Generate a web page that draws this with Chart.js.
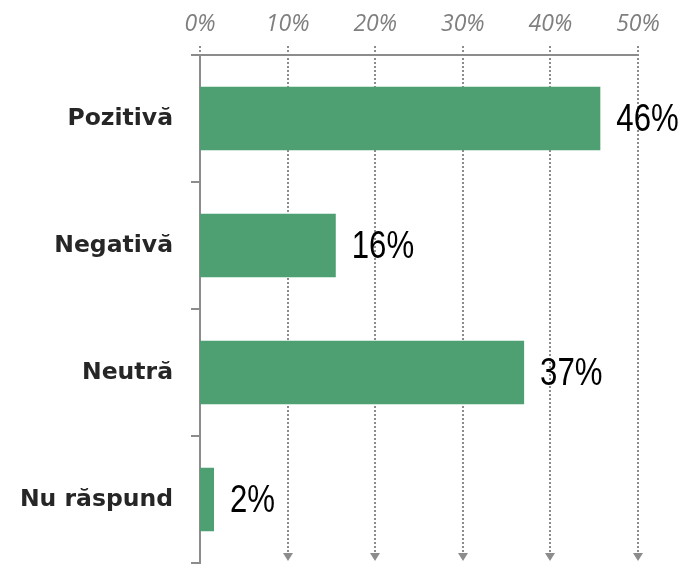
<!DOCTYPE html>
<html>
<head>
<meta charset="utf-8">
<script src="https://cdn.jsdelivr.net/npm/chart.js@4"></script>
<style>
  html, body { margin: 0; padding: 0; background: #fff; }
  #wrap { width: 686px; height: 569px; }
</style>
</head>
<body>
<div id="wrap"><canvas id="my_Chart" width="686" height="569"></canvas></div>
<script>
// Data
var categories = ["Pozitivă", "Negativă", "Neutră", "Nu răspund"];
var shares = [45.7, 15.5, 37, 1.6];
var valueLabels = ["46%", "16%", "37%", "2%"];
var tickValues = [0, 10, 20, 30, 40, 50];

var gridGrey = '#8c8c8c';

// dotted vertical grid lines with arrow heads (drawn under the bars)
var arrowGrid = {
    id: 'arrowGrid',
    beforeDatasetsDraw: function(chart) {
        var c = chart.ctx, x = chart.scales.x, area = chart.chartArea;
        c.save();
        c.strokeStyle = gridGrey;
        c.fillStyle = gridGrey;
        c.lineWidth = 2;
        c.setLineDash([2, 2]);
        tickValues.forEach(function(v) {
            var px = Math.round(x.getPixelForValue(v));
            c.beginPath();
            c.moveTo(px, area.top - 9);
            c.lineTo(px, v === 0 ? area.top - 1 : area.bottom - 9);
            c.stroke();
            if (v === 0) return;
            c.beginPath();
            c.moveTo(px - 5, area.bottom - 10);
            c.lineTo(px + 5, area.bottom - 10);
            c.lineTo(px, area.bottom - 2);
            c.closePath();
            c.fill();
        });
        c.restore();
    }
};

// value labels to the right of each bar (narrow face, so squeeze a bit)
var valueText = {
    id: 'valueText',
    afterDatasetsDraw: function(chart) {
        var c = chart.ctx;
        var bars = chart.getDatasetMeta(0).data;
        var sx = 0.82;
        c.save();
        c.font = '38px "Liberation Sans"';
        c.fillStyle = '#000';
        c.textAlign = 'left';
        c.textBaseline = 'middle';
        c.scale(sx, 1);
        bars.forEach(function(b, i) {
            c.fillText(valueLabels[i], (b.x + 16) / sx, b.y + 2);
        });
        c.restore();
    }
};

var ctx = document.getElementById('my_Chart').getContext('2d');
var myChart = new Chart(ctx, {
    type: 'bar',
    data: {
        labels: categories,
        datasets: [{
            data: shares,
            backgroundColor: '#4ea072',
            barPercentage: 1,
            categoryPercentage: 0.5
        }]
    },
    options: {
        indexAxis: 'y',
        responsive: false,
        animation: false,
        layout: { padding: { right: 48, bottom: 6 } },
        plugins: { legend: { display: false }, tooltip: { enabled: false } },
        scales: {
            x: {
                position: 'top',
                min: 0,
                max: 50,
                afterBuildTicks: function(s) {
                    s.ticks = tickValues.map(function(v) { return { value: v }; });
                },
                afterFit: function(s) { s.height = 55; },
                grid: { display: false },
                border: { display: true, color: gridGrey, width: 2, dash: [2, 2] },
                ticks: {
                    padding: 9,
                    color: '#7f7f7f',
                    font: { family: 'Open Sans', style: 'italic', size: 23 },
                    callback: function(v) { return v + '%'; }
                }
            },
            y: {
                afterFit: function(s) {
                    s.width = 200;
                    // don't let label padding push the plot up from the bottom
                    s.paddingTop = 0;
                    s.paddingBottom = 0;
                },
                grid: {
                    offset: true,
                    drawOnChartArea: false,
                    drawTicks: true,
                    tickLength: 9,
                    color: gridGrey,
                    lineWidth: 2
                },
                border: { display: true, color: gridGrey, width: 2 },
                ticks: {
                    padding: 18,
                    color: '#262626',
                    font: { family: 'DejaVu Sans', weight: 'bold', size: 23.5 }
                }
            }
        }
    },
    plugins: [arrowGrid, valueText]
});
</script>
</body>
</html>
